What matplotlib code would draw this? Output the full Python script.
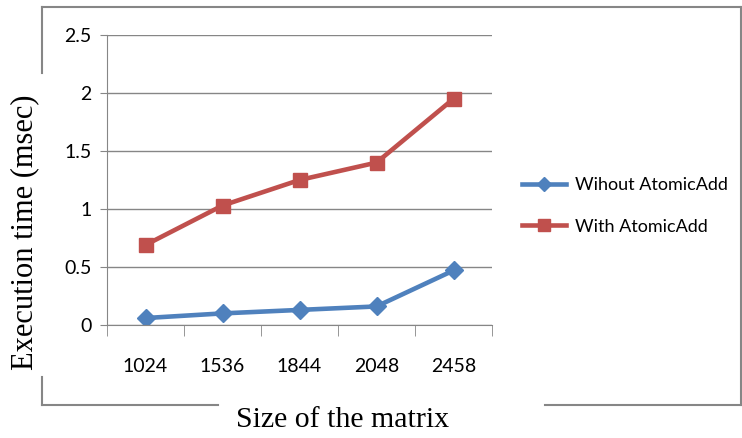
import matplotlib
matplotlib.use('Agg')
import matplotlib.pyplot as plt
from matplotlib.lines import Line2D

sizes = ['1024', '1536', '1844', '2048', '2458']
without_atomic = [0.06, 0.10, 0.13, 0.16, 0.47]
with_atomic = [0.69, 1.03, 1.25, 1.40, 1.95]

grey = '#868686'
tick_font = ['Lato', 'DejaVu Sans']
serif = ['Liberation Serif', 'DejaVu Serif']

fig = plt.figure(figsize=(7.42, 4.38), dpi=100)
ax = fig.add_axes([107/742, 113/438, 385/742, 290/438])

x = range(len(sizes))
ax.plot(x, without_atomic, c='#4F81BD', lw=3.3, marker='D', ms=9, label='Wihout AtomicAdd')
ax.plot(x, with_atomic, c='#C0504D', lw=3.3, marker='s', ms=10, label='With AtomicAdd')

ax.set_xlim(-0.5, len(sizes) - 0.5)
ax.set_ylim(0, 2.5)
ax.set_yticks([0, 0.5, 1, 1.5, 2, 2.5])
ax.set_yticklabels(['0', '0.5', '1', '1.5', '2', '2.5'], family=tick_font, fontsize=14)
ax.set_xticks(list(x))
ax.set_xticklabels(sizes, family=tick_font, fontsize=14)
ax.set_xticks([i + 0.5 for i in range(-1, len(sizes))], minor=True)
ax.tick_params(axis='x', which='major', length=0, pad=24)
ax.tick_params(axis='x', which='minor', length=8, color=grey, direction='out')
ax.tick_params(axis='y', length=5, color=grey, pad=6)
ax.grid(axis='y', color=grey, lw=1)
ax.set_axisbelow(True)
for s in ['top', 'right']:
    ax.spines[s].set_visible(False)
ax.spines['left'].set_color(grey)
ax.spines['bottom'].set_color(grey)

ax.legend(loc='center left', bbox_to_anchor=(1.06, 0.41), frameon=False, borderaxespad=0,
          prop={'family': tick_font, 'size': 13}, handlelength=2.4,
          handletextpad=0.5, labelspacing=1.4, markerscale=0.8)

fig.text(25/742, 1 - 232/438, 'Execution time (msec)', rotation=90, ha='center', va='center',
         family=serif, fontsize=22)
fig.text(343/742, 1 - 420/438, 'Size of the matrix', ha='center', va='center',
         family=serif, fontsize=21.5)

# chart area border, broken where the axis titles sit
def px(xp, yp):
    return xp / 742, 1 - yp / 438

for seg in [((42, 7), (42, 73)), ((42, 377), (42, 405)), ((42, 7), (741, 7)),
            ((741, 7), (741, 405)), ((42, 405), (218, 405)), ((545, 405), (741, 405))]:
    (x0, y0), (x1, y1) = px(*seg[0]), px(*seg[1])
    fig.add_artist(Line2D([x0, x1], [y0, y1], color=grey, lw=1.5))

plt.savefig('out.png', dpi=100)
